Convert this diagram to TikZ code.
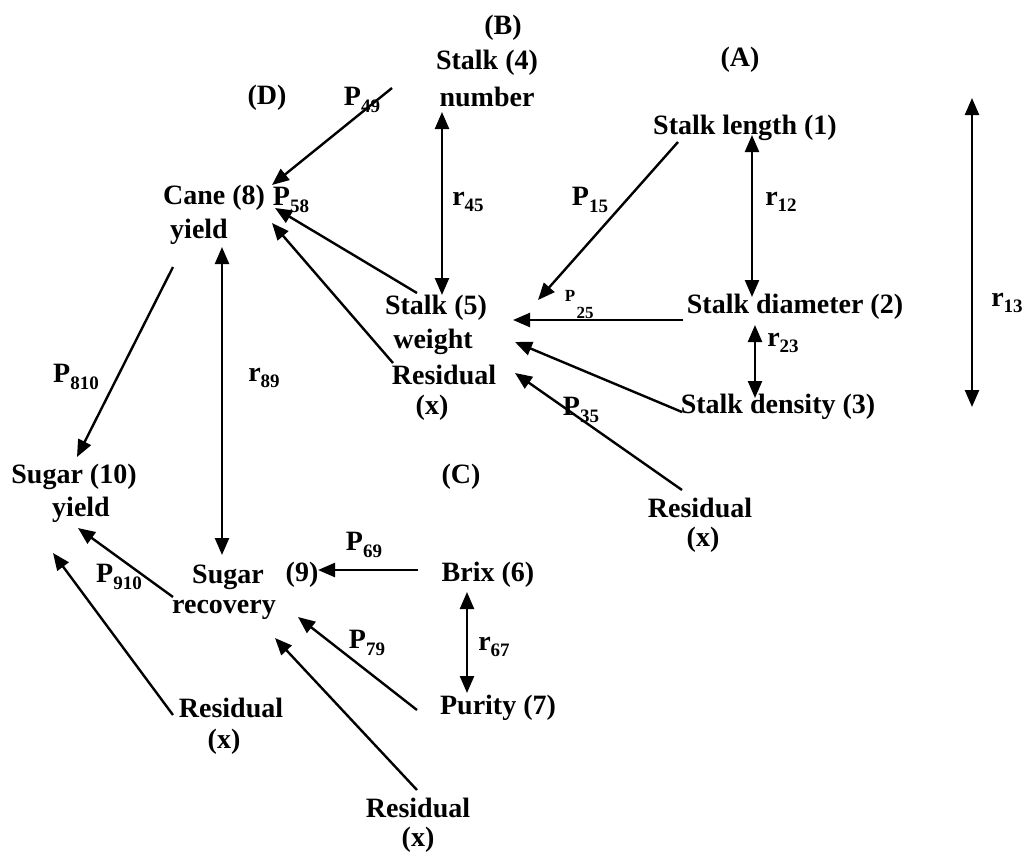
\documentclass[tikz,border=0pt]{standalone}
\usepackage{fontspec}
\setmainfont{Liberation Serif}
\usetikzlibrary{arrows.meta}
\newcommand\mysub[1]{\raisebox{-0.24em}{\fontsize{19}{19}\selectfont #1}}
\begin{document}
\begin{tikzpicture}[x=1pt,y=-1pt,
  lbl/.style={font=\fontsize{28}{33}\selectfont\bfseries, inner sep=0pt},
  smalllbl/.style={font=\fontsize{17}{17}\selectfont\bfseries, inner sep=0pt},
  tipA/.tip={Triangle[length=17pt,width=14pt]},
  arr/.style={-tipA, line width=2.4pt},
  dbl/.style={tipA-tipA, line width=2.4pt}]
\useasboundingbox[fill=white] (0,0) rectangle (1023,852);

% ---------- text nodes ----------
\node[lbl] (B)    at (503,28)  {(B)};
\node[lbl] (n4a)  at (487,63)  {Stalk (4)};
\node[lbl] (n4b)  at (487,97)  {number};
\node[lbl] (A)    at (740,60)  {(A)};
\node[lbl] (D)    at (267,98)  {(D)};
\node[lbl] (p49)  at (362,100) {P\mysub{49}};
\node[lbl] (n1)   at (745,128) {Stalk length (1)};
\node[lbl] (n8a)  at (214,198) {Cane (8)};
\node[lbl] (n8b)  at (199,232) {yield};
\node[lbl] (p58)  at (291,200) {P\mysub{58}};
\node[lbl] (r45)  at (468,202) {r\mysub{45}};
\node[lbl] (p15)  at (590,200) {P\mysub{15}};
\node[lbl] (r12)  at (781,202) {r\mysub{12}};
\node[lbl] (n5a)  at (436,308) {Stalk (5)};
\node[lbl] (n5b)  at (433,342) {weight};
\node[lbl] (res5a) at (444,375) {Residual};
\node[lbl] (res5b) at (432,408) {(x)};
\node[smalllbl] (p25a) at (570,296) {P};
\node[smalllbl] (p25b) at (585,313) {25};
\node[lbl] (n2)   at (795,307) {Stalk diameter (2)};
\node[lbl] (r13)  at (1007,303) {r\mysub{13}};
\node[lbl] (r23)  at (783,343) {r\mysub{23}};
\node[lbl] (n3)   at (778,407) {Stalk density (3)};
\node[lbl] (p35)  at (581,410) {P\mysub{35}};
\node[lbl] (resAa) at (700,508) {Residual};
\node[lbl] (resAb) at (703,540) {(x)};
\node[lbl] (p810) at (76,377)  {P\mysub{810}};
\node[lbl] (r89)  at (264,378) {r\mysub{89}};
\node[lbl] (n10a) at (74,477)  {Sugar (10)};
\node[lbl] (n10b) at (81,510)  {yield};
\node[lbl] (C)    at (461,477) {(C)};
\node[lbl] (p69)  at (364,545) {P\mysub{69}};
\node[lbl] (n9a)  at (228,577) {Sugar};
\node[lbl] (n9n)  at (302,575) {(9)};
\node[lbl] (n9b)  at (224,610) {recovery};
\node[lbl] (n6)   at (488,575) {Brix (6)};
\node[lbl] (p910) at (119,577) {P\mysub{910}};
\node[lbl] (p79)  at (367,643) {P\mysub{79}};
\node[lbl] (r67)  at (494,647) {r\mysub{67}};
\node[lbl] (resLa) at (231,708) {Residual};
\node[lbl] (resLb) at (224,742) {(x)};
\node[lbl] (n7)   at (498,708) {Purity (7)};
\node[lbl] (resBa) at (418,808) {Residual};
\node[lbl] (resBb) at (418,840) {(x)};

% ---------- connector end points ----------
\coordinate (c4t)  at (392,88);   \coordinate (c8a) at (272,185);
\coordinate (c4b)  at (442,112);  \coordinate (c5t) at (442,295);
\coordinate (c5l)  at (417,293);  \coordinate (c8b) at (275,208);
\coordinate (cr5)  at (393,363);  \coordinate (c8c) at (272,223);
\coordinate (c1l)  at (678,142);  \coordinate (c5a) at (538,300);
\coordinate (c1b)  at (752,135);  \coordinate (c2t) at (752,297);
\coordinate (c2l)  at (683,320);  \coordinate (c5b) at (513,320);
\coordinate (c2b)  at (755,325);  \coordinate (c3t) at (755,398);
\coordinate (c3l)  at (682,412);  \coordinate (c5c) at (515,342);
\coordinate (crA)  at (682,490);  \coordinate (c5d) at (515,373);
\coordinate (c13t) at (972,98);   \coordinate (c13b) at (972,407);
\coordinate (c8d)  at (173,267);  \coordinate (c10a) at (77,457);
\coordinate (c8e)  at (222,247);  \coordinate (c9t) at (222,555);
\coordinate (c6l)  at (418,570);  \coordinate (c9a) at (318,570);
\coordinate (c9l)  at (173,597);  \coordinate (c10b) at (78,528);
\coordinate (crL)  at (173,715);  \coordinate (c10c) at (53,553);
\coordinate (c7l)  at (417,710);  \coordinate (c9b) at (298,617);
\coordinate (crB)  at (417,790);  \coordinate (c9c) at (275,638);
\coordinate (c6b)  at (467,592);  \coordinate (c7t) at (467,693);

% ---------- connectors ----------
\draw[arr] (c4t) -- (c8a);
\draw[dbl] (c4b) -- (c5t);
\draw[arr] (c5l) -- (c8b);
\draw[arr] (cr5) -- (c8c);
\draw[arr] (c1l) -- (c5a);
\draw[dbl] (c1b) -- (c2t);
\draw[arr] (c2l) -- (c5b);
\draw[dbl] (c2b) -- (c3t);
\draw[arr] (c3l) -- (c5c);
\draw[arr] (crA) -- (c5d);
\draw[dbl] (c13t) -- (c13b);
\draw[arr] (c8d) -- (c10a);
\draw[dbl] (c8e) -- (c9t);
\draw[arr] (c6l) -- (c9a);
\draw[arr] (c9l) -- (c10b);
\draw[arr] (crL) -- (c10c);
\draw[arr] (c7l) -- (c9b);
\draw[arr] (crB) -- (c9c);
\draw[dbl] (c6b) -- (c7t);
\end{tikzpicture}
\end{document}
